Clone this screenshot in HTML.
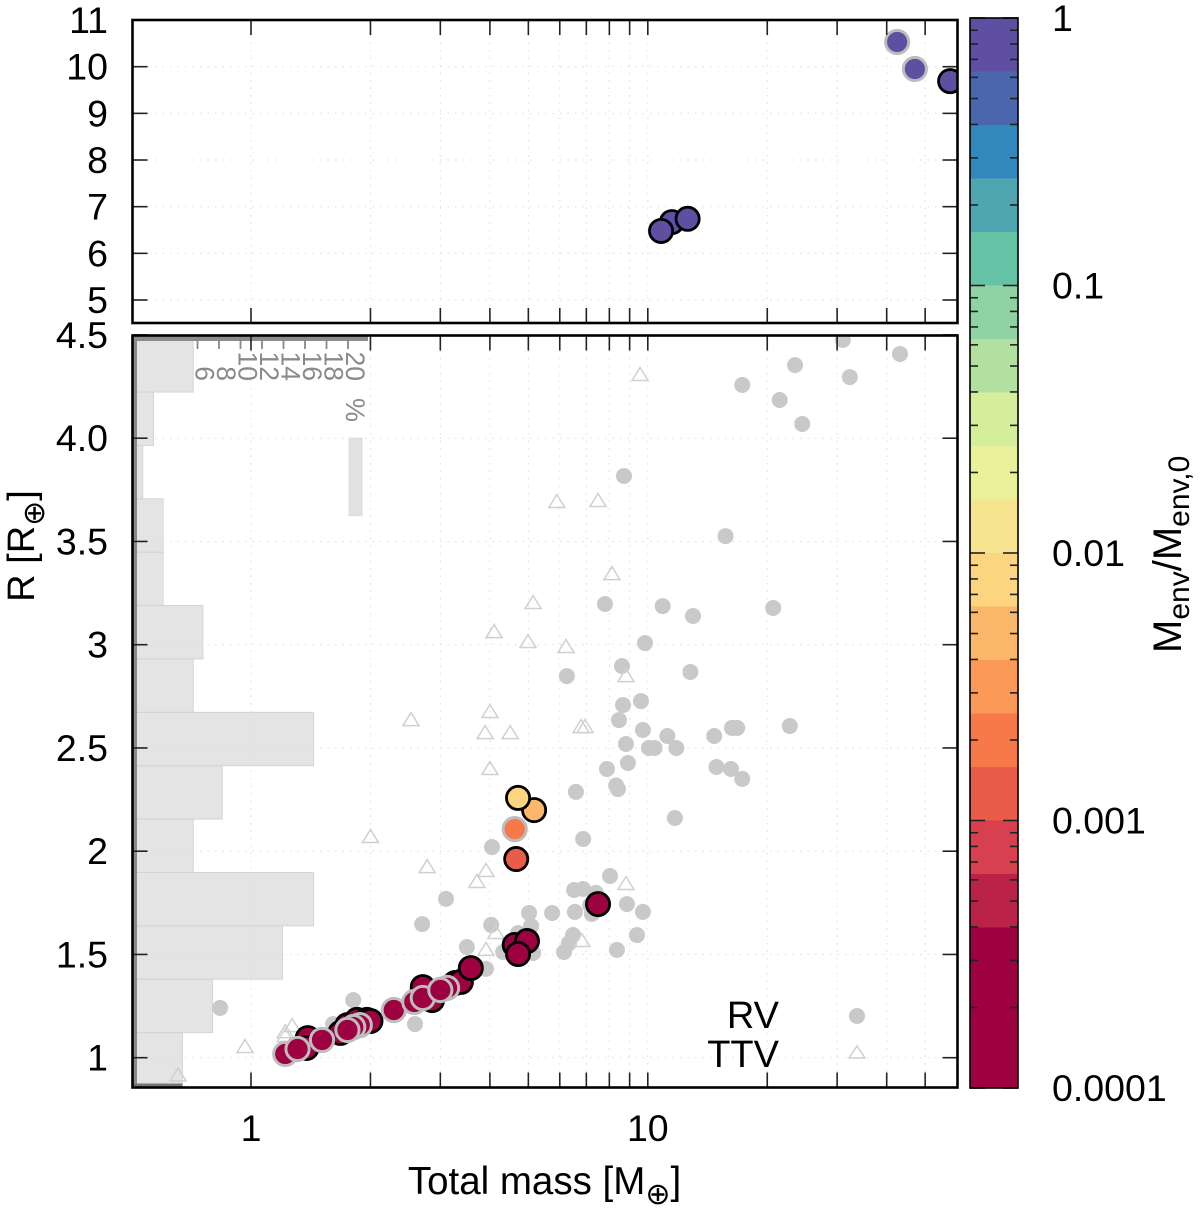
<!DOCTYPE html>
<html lang="en">
<head>
<meta charset="utf-8">
<title>Mass-radius diagram</title>
<style>
html,body{margin:0;padding:0;background:#fff;}
svg{display:block;font-family:"Liberation Sans","DejaVu Sans",sans-serif;}
.earth{font-family:"DejaVu Sans",sans-serif;}
</style>
</head>
<body>
<svg id="chart" xmlns="http://www.w3.org/2000/svg" width="1200" height="1213" viewBox="0 0 1200 1213">
  <defs>
    <clipPath id="clip-top"><rect x="132.5" y="20" width="825" height="303"/></clipPath>
    <clipPath id="clip-bottom"><rect x="132.5" y="335.5" width="825" height="752"/></clipPath>
  </defs>
  <rect x="0" y="0" width="1200" height="1213" fill="#fff"/>
  <g id="grid"></g>
  <g id="hist" clip-path="url(#clip-bottom)"></g>
  <g id="rv" clip-path="url(#clip-bottom)"></g>
  <g id="ttv" clip-path="url(#clip-bottom)"></g>
  <g id="model-bottom" clip-path="url(#clip-bottom)"></g>
  <g id="model-top" clip-path="url(#clip-top)"></g>
  <g id="ticks"></g>
  <rect x="132.5" y="20" width="825" height="303" fill="none" stroke="#000" stroke-width="2.6"/>
  <rect x="132.5" y="335.5" width="825" height="752" fill="none" stroke="#000" stroke-width="2.6"/>
  <g id="colorbar"></g>
  <g id="labels" font-size="37.5" fill="#000"></g>

  <text transform="translate(34,546) rotate(-90)" text-anchor="middle" font-size="38" fill="#000">R [R<tspan class="earth" font-size="30" dy="10">⊕</tspan><tspan dy="-10">]</tspan></text>
  <text x="544.5" y="1194" text-anchor="middle" font-size="38.5" fill="#000">Total mass [M<tspan class="earth" font-size="30" dy="10">⊕</tspan><tspan dy="-10">]</tspan></text>
  <text transform="translate(1181,653) rotate(-90)" font-size="40" fill="#000">M<tspan font-size="30" dy="8">env</tspan><tspan dy="-8">/M</tspan><tspan font-size="30" dy="8">env,0</tspan></text>

  <text x="779" y="1028" text-anchor="end" font-size="38" fill="#000">RV</text>
  <text x="779" y="1067" text-anchor="end" font-size="38" fill="#000">TTV</text>
  <circle cx="857" cy="1016" r="8" fill="#c9c9c9"/>
  <path d="M857 1046 L865 1058 L849 1058 Z" fill="none" stroke="#cfcfcf" stroke-width="1.5"/>
</svg>

<script>
// ---- chart data ----
const xGridTicks = [1,2,3,4,5,6,7,8,9,10,20,30,40,50];
const xTickLabels = [1,10];
const yTicksLower = [1,1.5,2,2.5,3,3.5,4,4.5];
const yTickTextLower = ["1","1.5","2","2.5","3","3.5","4.0","4.5"];
const yTicksUpper = [5,6,7,8,9,10,11];
const cbDecades = [1,0.1,0.01,0.001,0.0001];
const cbDecadeText = ["1","0.1","0.01","0.001","0.0001"];
const cbMinorFactors = [2,3,4,5,6,7,8,9];
const cbBandColors = ["#5e4fa2","#4a67ad","#3288bd","#50a6b0","#66c2a5","#8fd3a4","#b2e09f","#d4ee9b","#e9f29a","#f7e48e","#fdd480","#fdb76a","#fc9958","#f7794a","#e95c4a","#d7404e","#bb2248","#9e0142","#9e0142","#9e0142"];

const histPercent = [4.6,7.4,13.9,16.8,5.6,8.3,16.8,5.6,6.5,2.8,2.8,0.9,1.9,5.6];
const histTickPercent = [6,8,10,12,14,16,18,20];

const rvMass = [31.0,43.2,23.5,32.3,17.3,21.5,24.5,8.71,15.7,7.80,10.9,13.0,20.7,9.84,8.61,6.25,12.8,9.61,8.66,8.46,9.72,11.2,14.7,16.3,16.8,22.8,8.81,10.07,10.4,11.8,8.91,7.89,14.9,16.2,17.3,8.32,8.41,6.59,11.7,6.87,4.05,8.03,6.52,6.87,7.40,6.55,7.23,7.15,8.86,9.72,9.39,8.36,6.48,6.33,6.15,5.74,5.02,5.08,4.03,4.71,4.32,5.14,3.91,3.10,2.70,3.50,1.81,0.836,2.59,1.61];
const rvRadius = [4.476,4.408,4.354,4.296,4.258,4.185,4.069,3.817,3.526,3.197,3.187,3.139,3.178,3.008,2.897,2.848,2.868,2.727,2.708,2.635,2.587,2.558,2.558,2.597,2.597,2.606,2.519,2.500,2.500,2.500,2.427,2.398,2.408,2.398,2.350,2.318,2.301,2.287,2.161,2.059,2.020,1.880,1.812,1.817,1.798,1.706,1.696,1.739,1.744,1.706,1.594,1.522,1.594,1.555,1.512,1.701,1.701,1.638,1.643,1.604,1.512,1.507,1.430,1.769,1.647,1.536,1.279,1.241,1.163,1.163];

const ttvMass = [9.56,5.90,7.49,8.12,5.14,4.10,4.99,6.22,8.81,2.53,4.00,3.89,4.50,6.79,6.95,4.00,2.00,2.78,3.91,3.71,8.81,4.14,6.82,3.91,1.27,1.22,1.22,0.966,0.655];
const ttvRadius = [4.306,3.691,3.696,3.342,3.202,3.061,3.013,2.989,2.848,2.635,2.674,2.572,2.572,2.601,2.601,2.398,2.069,1.923,1.904,1.851,1.841,1.604,1.565,1.522,1.153,1.124,1.105,1.052,0.914];

const lowerBlackMass = [1.39,1.38,1.68,1.75,1.85,1.94,1.96,2.00,2.70,2.71,2.86,3.27,3.38,3.58,4.62,4.96,4.71,7.49,5.17,4.71,4.66];
const lowerBlackRadius = [1.095,1.047,1.120,1.158,1.183,1.178,1.183,1.178,1.313,1.342,1.279,1.362,1.367,1.434,1.546,1.565,1.502,1.744,2.199,2.258,1.962];
const lowerBlackRatio = [0.0002,0.0002,0.0002,0.0002,0.0002,0.0002,0.0002,0.0002,0.0002,0.0002,0.0002,0.0002,0.0002,0.0002,0.0002,0.0002,0.0002,0.0002,0.005,0.0079,0.00126];

const lowerGreyMass = [1.22,1.31,1.51,1.88,1.81,1.75,2.29,2.58,2.71,3.12,3.00,4.62];
const lowerGreyRadius = [1.018,1.042,1.086,1.158,1.148,1.134,1.231,1.270,1.289,1.338,1.328,2.107];
const lowerGreyRatio = [0.0002,0.0002,0.0002,0.0002,0.0002,0.0002,0.0002,0.0002,0.0002,0.0002,0.0002,0.002];

const upperBlackMass = [11.5,12.6,10.8,57.8];
const upperBlackRadius = [6.67,6.74,6.48,9.69];
const upperBlackRatio = [0.8,0.8,0.8,0.8];
const upperGreyMass = [42.5,47.1];
const upperGreyRadius = [10.53,9.95];
const upperGreyRatio = [0.8,0.8];

// ---- axis functions ----
const SVGNS = "http://www.w3.org/2000/svg";
const xScale = m => 251 + 396.8 * Math.log10(m);
const yLower = r => 1057.7 - 206.5 * (r - 1);
const yUpper = r => 66.7 - 46.66 * (r - 10);
const cbY = v => 18 - 267.5 * Math.log10(v);
const pctX = p => 133 + 10.75 * p;
const bandColor = v => cbBandColors[Math.min(cbBandColors.length - 1, Math.max(0, Math.floor(-Math.log10(v) * 5)))];

function mk(tag, attrs, parent){
  const e = document.createElementNS(SVGNS, tag);
  for (const k in attrs) e.setAttribute(k, attrs[k]);
  parent.appendChild(e);
  return e;
}
const gGrid = document.getElementById('grid');
const gHist = document.getElementById('hist');
const gRv = document.getElementById('rv');
const gTtv = document.getElementById('ttv');
const gLower = document.getElementById('model-bottom');
const gUpper = document.getElementById('model-top');
const gTicks = document.getElementById('ticks');
const gBar = document.getElementById('colorbar');
const gLabels = document.getElementById('labels');

const GRID = {stroke:'#dcdcdc','stroke-width':1,'stroke-dasharray':'1.5 6'};
const TICK = {stroke:'#222','stroke-width':1.6};

// grid and ticks: x axis
xGridTicks.forEach(t => {
  const x = xScale(t);
  [[20,323],[335.5,1087.5]].forEach(p => {
    const g = mk('line',Object.assign({x1:x,x2:x,y1:p[0],y2:p[1]},GRID),gGrid);
    
    
    const a = mk('line',Object.assign({x1:x,x2:x,y1:p[0],y2:p[0]+15},TICK),gTicks);
    
    
    const b = mk('line',Object.assign({x1:x,x2:x,y1:p[1],y2:p[1]-15},TICK),gTicks);
    
    
  });
});
xTickLabels.forEach(t => {
  const l = mk('text',{x:xScale(t),y:1141,'text-anchor':'middle'},gLabels);
  l.textContent = t;
  
  
});

// grid and ticks: y axes
function yAxis(ticks, text, scale){
  ticks.forEach((t,i) => {
    const y = scale(t);
    const g = mk('line',Object.assign({x1:132.5,x2:957.5,y1:y,y2:y},GRID),gGrid);
    
    
    const a = mk('line',Object.assign({x1:132.5,x2:147.5,y1:y,y2:y},TICK),gTicks);
    
    
    const b = mk('line',Object.assign({x1:957.5,x2:942.5,y1:y,y2:y},TICK),gTicks);
    
    
    const l = mk('text',{x:108,y:y+13,'text-anchor':'end'},gLabels);
    l.textContent = text[i];
    
    
  });
}
yAxis(yTicksLower, yTickTextLower, yLower);
yAxis(yTicksUpper, yTicksUpper.map(String), yUpper);

// histogram
const HIST_START = 0.863, HIST_WIDTH = 0.2585;
histPercent.forEach((p,i) => {
  const r0 = i === 0 ? 0.8 : HIST_START + i * HIST_WIDTH;
  const yB = yLower(r0), yT = yLower(HIST_START + (i + 1) * HIST_WIDTH);
  const bar = mk('rect',{x:133,y:yT,width:pctX(p)-133,height:yB-yT,fill:'#d9d9d9','fill-opacity':0.72,stroke:'#d4d4d4','stroke-width':1},gHist);
  
  
});
const keyBar = mk('rect',{x:pctX(20.1),y:yLower(4.0),width:pctX(21.3)-pctX(20.1),height:yLower(3.625)-yLower(4.0),fill:'#e2e2e2',stroke:'#dadada','stroke-width':1},gHist);


const histLeft = mk('rect',{x:133,y:336,width:4,height:751,fill:'#8a8a8a'},gHist);


const histBase = mk('rect',{x:133,y:1083.5,width:pctX(histPercent[0])-133,height:4,fill:'#777'},gHist);


const histAxis = mk('rect',{x:133,y:336,width:pctX(20)+20-133,height:5,fill:'#8c8c8c'},gHist);


histTickPercent.forEach(p => {
  const x = pctX(p);
  const t = mk('line',{x1:x,x2:x,y1:338,y2:349,stroke:'#888','stroke-width':1.8},gHist);
  
  
  const l = mk('text',{transform:'translate('+(x-2)+',381) rotate(90)','text-anchor':'end','font-size':26.5,fill:'#8a8a8a'},gHist);
  l.textContent = p;
  
  
});
const pctSign = mk('text',{transform:'translate('+(pctX(20)-2)+',398) rotate(90)','font-size':27,fill:'#8a8a8a'},gHist);
pctSign.textContent = '%';



// RV points
rvMass.forEach((m,i) => {
  const c = mk('circle',{cx:xScale(m),cy:yLower(rvRadius[i]),r:8,fill:'#c9c9c9'},gRv);
  
  
});

// TTV points
ttvMass.forEach((m,i) => {
  const x = xScale(m), y = yLower(ttvRadius[i]);
  const t = mk('path',{d:'M'+x+' '+(y-7.5)+' L'+(x+8)+' '+(y+5.5)+' L'+(x-8)+' '+(y+5.5)+' Z',fill:'none',stroke:'#d0d0d0','stroke-width':1.5},gTtv);
  
  
});

// model planets
function drawModel(masses, radii, ratios, scale, parent, strokeColor, r, sw){
  masses.forEach((m,i) => {
    const c = mk('circle',{cx:xScale(m),cy:scale(radii[i]),r:r,fill:bandColor(ratios[i]),stroke:strokeColor,'stroke-width':sw},parent);
    
    
  });
}
drawModel(lowerBlackMass, lowerBlackRadius, lowerBlackRatio, yLower, gLower, '#000', 11.6, 2.8);
drawModel(lowerGreyMass, lowerGreyRadius, lowerGreyRatio, yLower, gLower, '#bdbdbd', 11.6, 3);
drawModel(upperGreyMass, upperGreyRadius, upperGreyRatio, yUpper, gUpper, '#bdbdbd', 11.6, 3);
drawModel(upperBlackMass, upperBlackRadius, upperBlackRatio, yUpper, gUpper, '#000', 11.6, 2.8);

// colorbar
const BAND_H = (cbY(0.0001) - cbY(1)) / cbBandColors.length;
cbBandColors.forEach((col,i) => {
  const b = mk('rect',{x:970,y:18+i*BAND_H,width:48,height:BAND_H+0.5,fill:col},gBar);
  
  
});
cbDecades.forEach((d,i) => {
  const y = cbY(d);
  const a = mk('line',Object.assign({x1:970,x2:985,y1:y,y2:y},TICK),gBar);
  
  
  const b = mk('line',Object.assign({x1:1018,x2:1003,y1:y,y2:y},TICK),gBar);
  
  
  const l = mk('text',{x:1052,y:y+13},gLabels);
  l.textContent = cbDecadeText[i];
  
  
});
cbDecades.slice(1).forEach(d => {
  cbMinorFactors.forEach(f => {
    const y = cbY(d * f);
    const a = mk('line',Object.assign({x1:970,x2:978,y1:y,y2:y},TICK),gBar);
    
    
    const b = mk('line',Object.assign({x1:1018,x2:1010,y1:y,y2:y},TICK),gBar);
    
    
  });
});
const cbFrame = mk('rect',{x:970,y:18,width:48,height:1070,fill:'none',stroke:'#000','stroke-width':1.6},gBar);


</script>
</body>
</html>
